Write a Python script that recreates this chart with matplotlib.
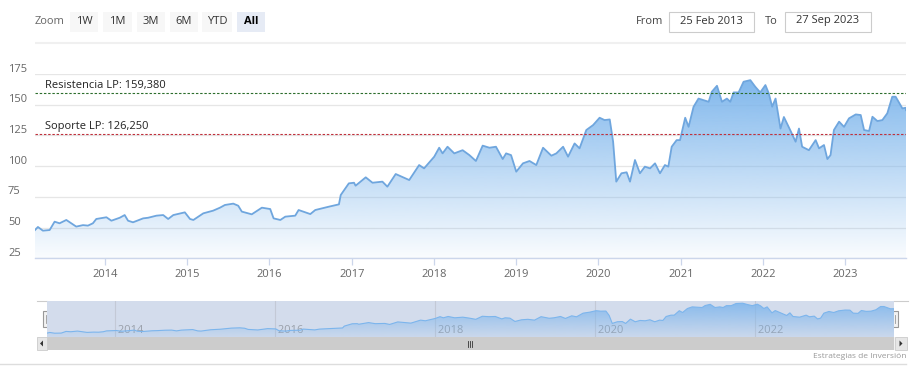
import matplotlib
matplotlib.use('Agg')
import matplotlib.pyplot as plt
import matplotlib.dates as mdates
import matplotlib.transforms as mtransforms
from matplotlib.patches import Rectangle, Polygon
import numpy as np
import pandas as pd

plt.rcParams['font.family'] = ['Open Sans', 'DejaVu Sans']

# ---------------- data ----------------
dates = [
    '2013-02-25', '2013-03-10', '2013-04-01', '2013-05-01', '2013-05-23', '2013-06-14',
    '2013-07-14', '2013-08-27', '2013-09-26', '2013-10-18', '2013-11-09', '2013-11-24',
    '2014-01-08', '2014-01-30', '2014-03-08', '2014-03-30', '2014-04-14', '2014-05-06',
    '2014-06-20', '2014-07-12', '2014-08-18', '2014-09-17', '2014-10-09', '2014-11-01',
    '2014-12-22', '2015-01-14', '2015-01-29', '2015-03-14', '2015-04-27', '2015-05-27',
    '2015-06-18', '2015-07-25', '2015-08-16', '2015-09-01', '2015-10-15', '2015-11-29',
    '2016-01-05', '2016-01-20', '2016-02-19', '2016-03-12', '2016-04-25', '2016-05-10',
    '2016-07-01', '2016-07-23', '2016-09-21', '2016-11-05', '2016-11-13', '2016-12-19',
    '2017-01-11', '2017-01-18', '2017-03-04', '2017-04-03', '2017-05-17', '2017-06-08',
    '2017-07-15', '2017-09-13', '2017-10-27', '2017-11-18', '2018-01-02', '2018-01-24',
    '2018-02-08', '2018-03-02', '2018-04-01', '2018-05-08', '2018-06-07', '2018-07-06',
    '2018-08-05', '2018-09-04', '2018-10-03', '2018-11-02', '2018-11-17', '2018-12-09',
    '2019-01-01', '2019-01-31', '2019-03-01', '2019-03-31', '2019-04-30', '2019-06-06',
    '2019-06-28', '2019-07-28', '2019-08-19', '2019-09-17', '2019-10-09', '2019-11-08',
    '2019-12-08', '2020-01-06', '2020-01-28', '2020-02-20', '2020-03-06', '2020-03-20',
    '2020-04-12', '2020-05-05', '2020-05-20', '2020-06-11', '2020-07-03', '2020-07-25',
    '2020-08-17', '2020-09-08', '2020-09-30', '2020-10-22', '2020-11-06', '2020-11-21',
    '2020-12-13', '2020-12-28', '2021-01-20', '2021-02-04', '2021-02-26', '2021-03-20',
    '2021-04-11', '2021-05-04', '2021-05-18', '2021-06-10', '2021-07-02', '2021-07-24',
    '2021-08-08', '2021-08-23', '2021-09-14', '2021-10-06', '2021-11-05', '2021-11-27',
    '2021-12-19', '2022-01-11', '2022-01-26', '2022-02-10', '2022-02-25', '2022-03-19',
    '2022-04-03', '2022-05-03', '2022-05-25', '2022-06-09', '2022-06-23', '2022-07-23',
    '2022-08-22', '2022-09-06', '2022-09-28', '2022-10-13', '2022-10-27', '2022-11-11',
    '2022-12-04', '2022-12-26', '2023-01-17', '2023-02-16', '2023-03-10', '2023-03-25',
    '2023-04-16', '2023-05-01', '2023-05-23', '2023-06-14', '2023-07-06', '2023-07-28',
    '2023-08-12', '2023-09-11', '2023-09-25', '2023-09-27',
]
prices = [
    48.0, 50.5, 47.5, 48.0, 54.8, 53.5,
    56.2, 50.8, 52.0, 51.6, 53.5, 57.0,
    58.4, 55.6, 58.0, 60.2, 55.6, 54.3,
    57.5, 58.0, 59.7, 60.2, 57.0, 60.2,
    62.4, 57.0, 56.2, 61.6, 63.8, 66.2,
    68.4, 69.5, 67.8, 63.0, 60.8, 66.2,
    65.1, 57.5, 56.2, 58.9, 59.7, 64.3,
    61.0, 64.3, 67.0, 68.9, 76.5, 86.0,
    86.5, 84.1, 90.9, 86.5, 87.4, 83.3,
    93.6, 88.7, 100.9, 98.2, 107.7, 115.0,
    110.4, 115.8, 110.4, 113.0, 109.0, 104.2,
    116.7, 115.0, 115.8, 105.8, 110.4, 109.0,
    95.5, 102.3, 104.2, 100.9, 115.0, 108.5,
    110.4, 115.8, 107.7, 118.5, 114.5, 129.4,
    133.4, 139.4, 137.5, 138.0, 119.9, 87.4,
    94.2, 95.0, 87.4, 105.0, 94.2, 99.6,
    98.2, 102.3, 94.2, 100.9, 99.6, 115.8,
    121.2, 121.2, 139.4, 132.0, 148.3, 155.0,
    153.7, 152.4, 160.5, 165.4, 152.4, 155.0,
    152.4, 160.0, 160.0, 168.7, 170.0, 164.6,
    160.0, 166.0, 159.2, 148.4, 155.0, 130.6,
    140.0, 128.6, 119.9, 130.6, 115.8, 113.0,
    121.2, 114.5, 117.2, 105.8, 109.0, 129.4,
    136.2, 132.0, 138.9, 142.1, 141.6, 129.4,
    128.6, 140.2, 136.7, 137.5, 143.0, 156.5,
    156.5, 147.0, 147.5, 145.6,
]
resistance = 159.380
support = 126.250
resistance_label = 'Resistencia LP: 159,380'
support_label = 'Soporte LP: 126,250'
y_ticks = [25, 50, 75, 100, 125, 150, 175]
year_ticks = [2014, 2015, 2016, 2017, 2018, 2019, 2020, 2021, 2022, 2023]
nav_years = [2014, 2016, 2018, 2020, 2022]
buttons = ['1W', '1M', '3M', '6M', 'YTD', 'All']
from_date = '25 Feb 2013'
to_date = '27 Sep 2023'
credits = 'Estrategias de Inversión'

# ---------------- layout helpers ----------------
W, H = 915, 375


def rect(x0, y0, x1, y1):
    return [x0 / W, 1 - y1 / H, (x1 - x0) / W, (y1 - y0) / H]


fig = plt.figure(figsize=(W / 100, H / 100), dpi=100)
fig.patch.set_facecolor('white')

# overlay for UI chrome (pixel coordinates)
ov = fig.add_axes([0, 0, 1, 1])
ov.set_xlim(0, W)
ov.set_ylim(H, 0)
ov.axis('off')

# range selector
ov.text(35, 21, 'Zoom', fontsize=8, color='#666666', va='center', ha='left')
btn_x = [70, 103, 137, 170, 202, 237]
btn_w = [28, 29, 28, 28, 30, 28]
for lbl, bx, bw in zip(buttons, btn_x, btn_w):
    sel = lbl == 'All'
    ov.add_patch(Rectangle((bx, 12), bw, 20, facecolor='#e6ebf5' if sel else '#f7f7f7',
                           edgecolor='none'))
    ov.text(bx + bw / 2, 21.5, lbl, fontsize=8, color='#000000' if sel else '#333333',
            fontweight='bold' if sel else 'normal', ha='center', va='center')

ov.text(636, 21, 'From', fontsize=8, color='#444444', va='center', ha='left')
ov.add_patch(Rectangle((669, 12), 85, 20, facecolor='white', edgecolor='#cccccc', lw=0.8))
ov.text(711.5, 21, from_date, fontsize=8, color='#333333', ha='center', va='center')
ov.text(765, 21, 'To', fontsize=8, color='#444444', va='center', ha='left')
ov.add_patch(Rectangle((785, 12), 86, 20, facecolor='white', edgecolor='#cccccc', lw=0.8))
ov.text(828, 21, to_date, fontsize=8, color='#333333', ha='center', va='center')
ov.plot([35, 906], [43, 43], color='#f0f0f0', lw=1.5, solid_capstyle='butt')

# ---------------- main chart ----------------
x = mdates.date2num(pd.to_datetime(dates))
y = np.array(prices)
ax = fig.add_axes(rect(35, 74, 906, 258.3))
ax.set_facecolor('none')
ax.set_xlim(x[0], x[-1])
ax.set_ylim(25, 175)

for s in ['top', 'right', 'left']:
    ax.spines[s].set_visible(False)
ax.spines['bottom'].set_color('#ccd6eb')
ax.spines['bottom'].set_linewidth(1.0)

ax.set_yticks(y_ticks)
ax.yaxis.grid(True, color='#e6e6e6', lw=0.9)
ax.tick_params(axis='y', length=0, labelleft=False)
ax.set_axisbelow(True)

ytrans = mtransforms.offset_copy(
    mtransforms.blended_transform_factory(fig.transFigure, ax.transData),
    fig=fig, x=0, y=5, units='dots')
for v in y_ticks:
    ax.text(8 / W, v, str(v), transform=ytrans, fontsize=8, color='#666666',
            ha='left', va='center', clip_on=False)

xt = mdates.date2num(pd.to_datetime([f'{yr}-01-01' for yr in year_ticks]))
ax.set_xticks(xt)
ax.set_xticklabels([str(yr) for yr in year_ticks])
ax.tick_params(axis='x', length=5, width=0.9, color='#ccd6eb', labelcolor='#666666',
               labelsize=8, pad=3)


def gradient_fill(axis, xs, ys, ylo, yhi, rgb, a_top, a_bot, z):
    poly = axis.fill_between(xs, ys, ylo, facecolor='none', edgecolor='none')
    n = 256
    alpha = np.linspace(a_top, a_bot, n)
    img = np.zeros((n, 1, 4))
    img[:, 0, 0] = rgb[0]
    img[:, 0, 1] = rgb[1]
    img[:, 0, 2] = rgb[2]
    img[:, 0, 3] = alpha
    im = axis.imshow(img, extent=[xs[0], xs[-1], ylo, yhi], aspect='auto',
                     origin='upper', zorder=z, interpolation='bilinear')
    im.set_clip_path(poly.get_paths()[0], transform=axis.transData)
    return im


blue = (124 / 255, 181 / 255, 236 / 255)
gradient_fill(ax, x, y, 25, 175, blue, 1.0, 0.04, 1)
ax.plot(x, y, color='#6fa6de', lw=1.3, zorder=3, solid_joinstyle='round')

ax.axhline(resistance, color='#2d6e2d', lw=0.8, ls=(0, (2.2, 1.6)), zorder=4)
ax.axhline(support, color='#c0303c', lw=0.8, ls=(0, (2.2, 1.6)), zorder=4)
ltrans = mtransforms.offset_copy(ax.transData, fig=fig, x=0, y=2, units='dots')
lx = ax.transData.inverted().transform(ax.transAxes.transform((10 / 871, 0)))[0]
ax.text(lx, resistance, resistance_label, transform=ltrans, fontsize=8, color='#222222',
        ha='left', va='bottom', zorder=5)
ax.text(lx, support, support_label, transform=ltrans, fontsize=8, color='#222222',
        ha='left', va='bottom', zorder=5)

# ---------------- navigator ----------------
nav = fig.add_axes(rect(47, 301, 894, 337))
nav.set_facecolor('#d3dcec')
nav.set_xlim(x[0], x[-1])
nav.set_ylim(32, 179)
for s in nav.spines.values():
    s.set_visible(False)
nav.set_yticks([])
nx = mdates.date2num(pd.to_datetime([f'{yr}-01-01' for yr in nav_years]))
nav.set_xticks([])
for v, yr in zip(nx, nav_years):
    nav.axvline(v, color='#c3c9d6', lw=0.8, zorder=0.5)
    nav.text(v, 35, ' ' + str(yr), fontsize=8, color='#9aa0aa', ha='left', va='bottom',
             zorder=0.6)
gradient_fill(nav, x, y, 32, 179, blue, 0.9, 0.1, 1)
nav.plot(x, y, color='#7cb5ec', lw=0.8, zorder=3)

# navigator outline & handles
ov.plot([36.5, 47], [301, 301], color='#cccccc', lw=0.8)
ov.plot([894, 908], [301, 301], color='#cccccc', lw=0.8)
for hx in (47, 893.5):
    ov.add_patch(Rectangle((hx - 4, 311), 8, 16, facecolor='#f2f2f2', edgecolor='#999999',
                           lw=0.8, zorder=6))
    ov.plot([hx - 1.2, hx - 1.2], [315, 323], color='#999999', lw=0.6, zorder=7)
    ov.plot([hx + 1.2, hx + 1.2], [315, 323], color='#999999', lw=0.6, zorder=7)

# scrollbar
ov.add_patch(Rectangle((36.5, 337), 871, 13, facecolor='#f2f2f2', edgecolor='none'))
ov.add_patch(Rectangle((47, 337), 847, 13, facecolor='#cccccc', edgecolor='none'))
ov.add_patch(Rectangle((36.5, 337), 10.5, 13, facecolor='#e6e6e6', edgecolor='#cccccc',
                       lw=0.6))
ov.add_patch(Rectangle((895, 337), 11.5, 13, facecolor='#e6e6e6', edgecolor='#cccccc',
                       lw=0.6))
ov.add_patch(Polygon([[43, 340.5], [43, 346.5], [40, 343.5]], closed=True,
                     facecolor='#333333', edgecolor='none'))
ov.add_patch(Polygon([[899.5, 340.5], [899.5, 346.5], [902.5, 343.5]], closed=True,
                     facecolor='#333333', edgecolor='none'))
for dx in (-2, 0, 2):
    ov.plot([470 + dx, 470 + dx], [340.5, 346.5], color='#333333', lw=0.6)

ov.text(906, 356.5, credits, fontsize=6, color='#999999', ha='right', va='center')
ov.plot([0, 906], [364, 364], color='#dddddd', lw=1.0)

fig.savefig('out.png', dpi=100, facecolor='white')
